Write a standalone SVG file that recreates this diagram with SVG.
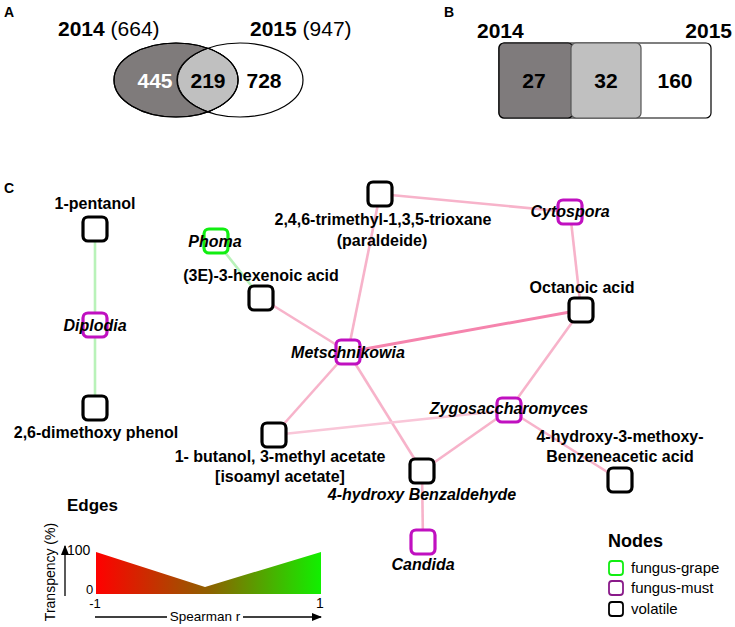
<svg xmlns="http://www.w3.org/2000/svg" width="735" height="627" viewBox="0 0 735 627">
<defs>
<style>
text{font-family:"Liberation Sans",Arial,sans-serif;fill:#000}
.pl{font-size:14px;font-weight:bold}
.big{font-size:21px;font-weight:bold}
.reg{font-weight:normal}
.lbl{font-size:16px;font-weight:bold;text-anchor:middle}
.it{font-style:italic}
.node{fill:#fff;stroke-width:3.2}
.vol{stroke:#000}
.must{stroke:#c010c0}
.grape{stroke:#11ee11}
.e{stroke:#f7b3ca;stroke-width:2.6;fill:none}
.eg{stroke:#b9f2b9;stroke-width:2.6;fill:none}
.leg{font-size:15px}
</style>
<linearGradient id="rg" x1="0" y1="0" x2="1" y2="0">
<stop offset="0" stop-color="#ff0000"/>
<stop offset="0.5" stop-color="#8f6000"/>
<stop offset="1" stop-color="#11f000"/>
</linearGradient>
<marker id="ar" viewBox="0 0 10 10" refX="9" refY="5" markerWidth="8" markerHeight="8" orient="auto">
<path d="M0,1 L10,5 L0,9 z" fill="#000"/>
</marker>
</defs>
<rect width="735" height="627" fill="#fff"/>

<!-- Panel A -->
<g id="panelA">
<text class="pl" x="4" y="17">A</text>
<text class="big" x="58" y="36">2014 <tspan class="reg">(664)</tspan></text>
<text class="big" x="250" y="36">2015 <tspan class="reg">(947)</tspan></text>
<ellipse cx="176" cy="80" rx="62" ry="37" fill="#7f7b7b" stroke="#000" stroke-width="1.2"/>
<path d="M208,48.3 A62,37 0 0 1 208,111.7 A63,37 0 0 1 208,48.3 z" fill="#c0c0c0" stroke="#000" stroke-width="1"/>
<ellipse cx="176" cy="80" rx="62" ry="37" fill="none" stroke="#000" stroke-width="1.2"/>
<ellipse cx="240" cy="80" rx="63" ry="37" fill="none" stroke="#000" stroke-width="1.2"/>
<text class="big" x="155" y="88" text-anchor="middle" style="fill:#fff">445</text>
<text class="big" x="208" y="88" text-anchor="middle">219</text>
<text class="big" x="264" y="88" text-anchor="middle">728</text>
</g>

<!-- Panel B -->
<g id="panelB">
<text class="pl" x="444" y="17">B</text>
<text class="big" x="477" y="38">2014</text>
<text class="big" x="732" y="38" text-anchor="end">2015</text>
<rect x="499" y="43" width="212" height="75" rx="5" fill="#fff" stroke="#000" stroke-width="1.2"/>
<rect x="499" y="43" width="74" height="75" rx="5" fill="#7f7b7c" stroke="#000" stroke-width="1.2"/>
<rect x="571" y="43" width="70" height="75" rx="5" fill="#c0c0c0" stroke="#555" stroke-width="1.2"/>
<text class="big" x="534" y="88" text-anchor="middle">27</text>
<text class="big" x="606" y="88" text-anchor="middle">32</text>
<text class="big" x="675" y="88" text-anchor="middle">160</text>
</g>

<text class="pl" x="4" y="193">C</text>

<!-- Connectors -->
<g id="connectors">
<line class="eg" x1="95" y1="229" x2="95" y2="325"/>
<line class="eg" x1="95" y1="325" x2="95" y2="408"/>
<line class="eg" x1="216" y1="241" x2="261" y2="298"/>
<line class="e" x1="261" y1="298" x2="348" y2="352"/>
<line class="e" x1="380" y1="194" x2="348" y2="352"/>
<line class="e" x1="380" y1="194" x2="570" y2="212"/>
<line class="e" x1="570" y1="212" x2="581" y2="310"/>
<line class="e" x1="348" y1="352" x2="581" y2="310" style="stroke:#f584ad;stroke-width:3"/>
<line class="e" x1="581" y1="310" x2="509" y2="410"/>
<line class="e" x1="348" y1="352" x2="274" y2="435"/>
<line class="e" x1="348" y1="352" x2="422" y2="471"/>
<line class="e" x1="274" y1="435" x2="509" y2="410" style="stroke:#f9c6d8"/>
<line class="e" x1="509" y1="410" x2="422" y2="471"/>
<line class="e" x1="509" y1="410" x2="620" y2="480"/>
<line class="e" x1="422" y1="471" x2="423" y2="542"/>
</g>

<!-- Nodes -->
<g id="n-pentanol">
<rect class="node vol" x="83" y="217" width="24" height="24" rx="5"/>
<text class="lbl" x="95" y="209">1-pentanol</text>
</g>
<g id="n-diplodia">
<rect class="node must" x="83" y="313" width="24" height="24" rx="5"/>
<text class="lbl it" x="95" y="331">Diplodia</text>
</g>
<g id="n-dimethoxyphenol">
<rect class="node vol" x="83" y="396" width="24" height="24" rx="5"/>
<text class="lbl" x="96" y="438">2,6-dimethoxy phenol</text>
</g>
<g id="n-phoma">
<rect class="node grape" x="204" y="229" width="24" height="24" rx="5"/>
<text class="lbl it" x="215" y="247">Phoma</text>
</g>
<g id="n-hexenoic">
<rect class="node vol" x="249" y="286" width="24" height="24" rx="5"/>
<text class="lbl" x="261" y="281">(3E)-3-hexenoic acid</text>
</g>
<g id="n-trioxane">
<rect class="node vol" x="368" y="182" width="24" height="24" rx="5"/>
<text class="lbl" x="383" y="225">2,4,6-trimethyl-1,3,5-trioxane</text>
<text class="lbl" x="382" y="246">(paraldeide)</text>
</g>
<g id="n-metschnikowia">
<rect class="node must" x="336" y="340" width="24" height="24" rx="5"/>
<text class="lbl it" x="348" y="358">Metschnikowia</text>
</g>
<g id="n-cytospora">
<rect class="node must" x="558" y="200" width="24" height="24" rx="5"/>
<text class="lbl it" x="570" y="217">Cytospora</text>
</g>
<g id="n-octanoic">
<rect class="node vol" x="569" y="298" width="24" height="24" rx="5"/>
<text class="lbl" x="582" y="293">Octanoic acid</text>
</g>
<g id="n-zygo">
<rect class="node must" x="497" y="398" width="24" height="24" rx="5"/>
<text class="lbl it" x="509" y="414">Zygosaccharomyces</text>
</g>
<g id="n-methoxybenz">
<rect class="node vol" x="608" y="468" width="24" height="24" rx="5"/>
<text class="lbl" x="620" y="442">4-hydroxy-3-methoxy-</text>
<text class="lbl" x="620" y="462">Benzeneacetic acid</text>
</g>
<g id="n-butanol">
<rect class="node vol" x="262" y="423" width="24" height="24" rx="5"/>
<text class="lbl" x="280" y="462">1- butanol, 3-methyl acetate</text>
<text class="lbl" x="280" y="482">[isoamyl acetate]</text>
</g>
<g id="n-hydroxybenz">
<rect class="node vol" x="410" y="459" width="24" height="24" rx="5"/>
<text class="lbl it" x="422" y="500">4-hydroxy Benzaldehyde</text>
</g>
<g id="n-candida">
<rect class="node must" x="411" y="530" width="24" height="24" rx="5"/>
<text class="lbl it" x="423" y="570">Candida</text>
</g>

<!-- Edges legend -->
<g id="legend-edges">
<text x="67" y="511" style="font-size:17px;font-weight:bold">Edges</text>
<polygon points="96,552 205,587 321,552 321,594 96,594" fill="url(#rg)"/>
<line x1="65" y1="596" x2="65" y2="546" stroke="#000" stroke-width="1.3" marker-end="url(#ar)"/>
<text x="67" y="555" style="font-size:14px">100</text>
<text x="86" y="594" style="font-size:13px">0</text>
<text x="95" y="608" style="font-size:13px" text-anchor="middle">-1</text>
<text x="320" y="608" style="font-size:14px" text-anchor="middle">1</text>
<text transform="translate(55,572) rotate(-90)" style="font-size:14px" text-anchor="middle">Transpency (%)</text>
<line x1="95" y1="617" x2="167" y2="617" stroke="#000" stroke-width="1.3"/>
<line x1="243" y1="617" x2="321" y2="617" stroke="#000" stroke-width="1.3" marker-end="url(#ar)"/>
<text x="205" y="621" style="font-size:13.5px" text-anchor="middle">Spearman r</text>
</g>

<!-- Nodes legend -->
<g id="legend-nodes">
<text x="608" y="547" style="font-size:18px;font-weight:bold">Nodes</text>
<rect x="609" y="561" width="14" height="14" rx="3" fill="#fff" stroke="#11ee11" stroke-width="1.8"/>
<rect x="609" y="581" width="14" height="14" rx="3" fill="#fff" stroke="#8a1a8a" stroke-width="1.8"/>
<rect x="609" y="602" width="14" height="14" rx="3" fill="#fff" stroke="#000" stroke-width="1.8"/>
<text class="leg" x="631" y="573">fungus-grape</text>
<text class="leg" x="631" y="593">fungus-must</text>
<text class="leg" x="631" y="614">volatile</text>
</g>
</svg>
